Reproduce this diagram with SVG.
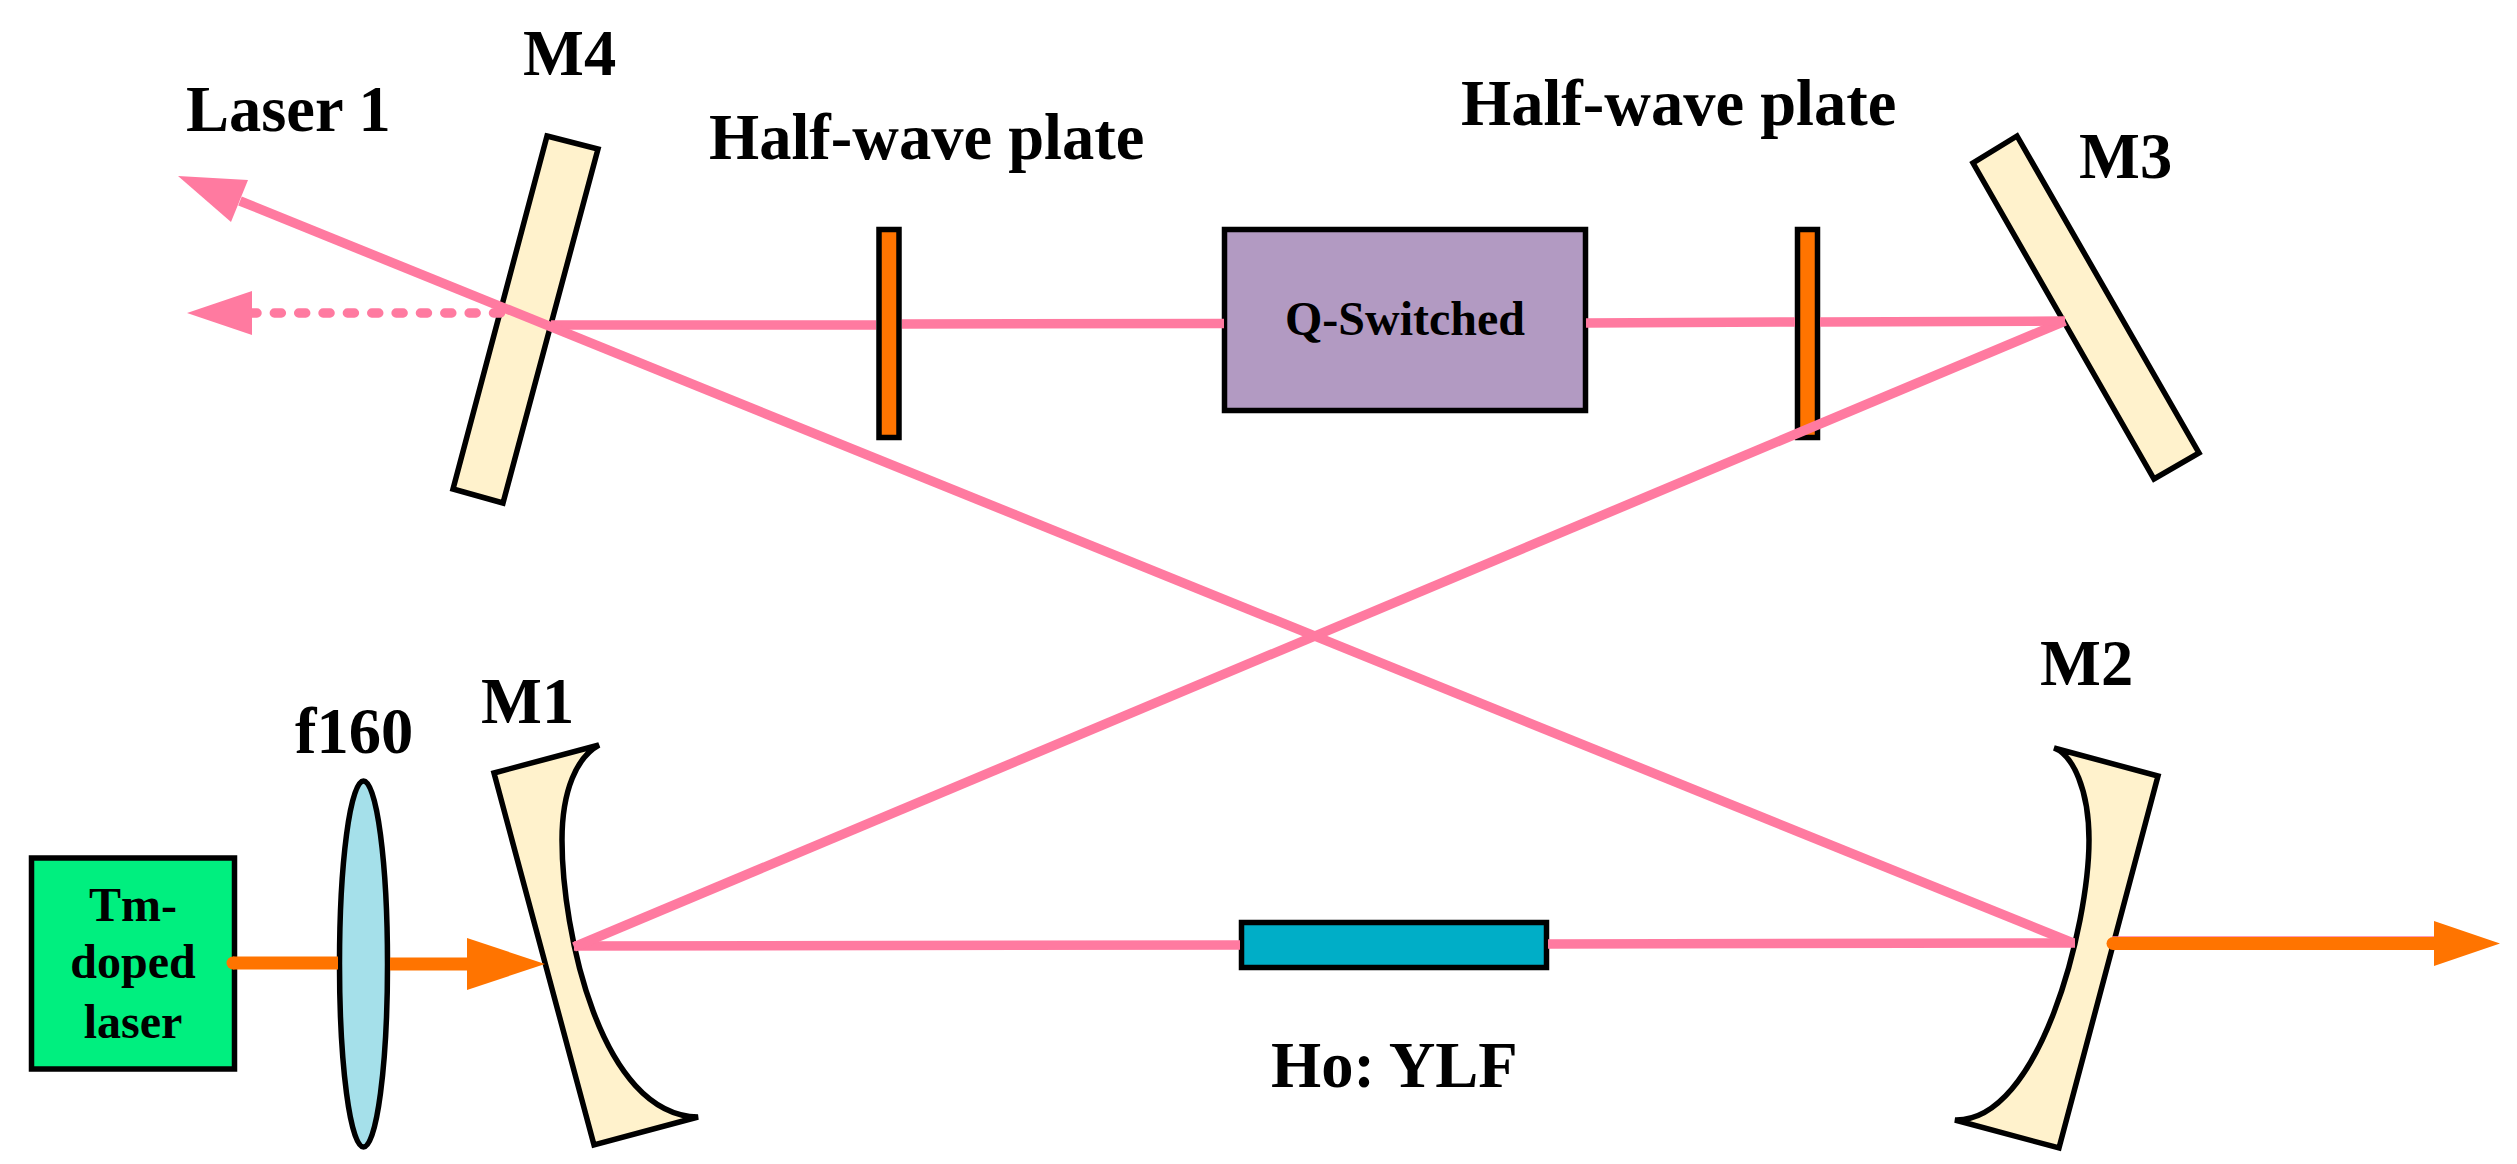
<svg xmlns="http://www.w3.org/2000/svg" width="2517" height="1164" viewBox="0 0 2517 1164">
<style>
text{font-family:"Liberation Serif","Times New Roman",serif;font-weight:bold;fill:#000}
.lg{font-size:64.5px}
.sm{font-size:48px}
.mid{text-anchor:middle}
.mir{fill:#FFF2CC;stroke:#000;stroke-width:5.5;stroke-linejoin:miter}
.box{stroke:#000;stroke-width:5.5}
.pink{fill:none;stroke:#FF7AA0;stroke-width:9.5}
.org{fill:none;stroke:#FF7400;stroke-width:13}
</style>
<rect width="2517" height="1164" fill="#fff"/>
<g id="tm-laser"><rect class="box" x="31.500" y="858" width="203" height="211" fill="#00EF7F"/>
<text class="sm mid" x="133" y="921">Tm-</text><text class="sm mid" x="133" y="978">doped</text><text class="sm mid" x="133" y="1038">laser</text></g>
<g id="lens-f160"><ellipse class="box" cx="363.500" cy="964" rx="24" ry="183" fill="#A5E0EA"/><text class="lg" x="295" y="753">f160</text></g>
<g id="m1"><path class="mir" d="M494 773L599 745C577 757 562 790 562 840C562 930 600 1115 698 1117L594 1145Z"/><text class="lg" x="481" y="723">M1</text></g>
<g id="m2"><path class="mir" d="M2054 748L2158 776L2059 1148L1955 1120C2040 1122 2089 925 2089 840C2089 790 2073 755 2054 748Z"/><text class="lg" x="2040" y="685">M2</text></g>
<g id="m3"><path class="mir" d="M2017 136L1973 163L2154 479L2199 453Z"/><text class="lg" x="2079" y="178">M3</text></g>
<g id="m4"><path class="mir" d="M547 136L598 149L503 503L453 489Z"/><text class="lg" x="523" y="75">M4</text></g>
<g id="hwp1"><rect class="box" x="879" y="229.500" width="20" height="208" fill="#FF7400"/><text class="lg" x="709" y="159">Half-wave plate</text></g>
<g id="hwp2"><rect class="box" x="1797.500" y="229.500" width="20" height="208" fill="#FF7400"/><text class="lg" x="1461" y="125">Half-wave plate</text></g>
<g id="qswitch"><rect class="box" x="1224.500" y="229.500" width="361" height="181" fill="#B29AC2"/><text class="sm" x="1285" y="335">Q-Switched</text></g>
<g id="crystal"><rect class="box" x="1241.500" y="922.500" width="305" height="45" fill="#00AEC7"/><text class="lg" x="1271" y="1087">Ho: YLF</text></g>
<g id="laser1-label"><text class="lg" x="186" y="131">Laser 1</text></g>
<g id="connectors">
<path class="pink" d="M574 946L1240 945M1548 944L2075 943"/>
<path class="pink" d="M2112 941L2440 941"/>
<path class="pink" d="M574 947L2065 321"/>
<path class="pink" d="M551 325L876 325M902 324L1224 323.500M1586 323L1795 322M1820 322L2065 321"/>
<path class="pink" d="M2073 943L240 201"/>
<polygon fill="#FF7AA0" points="178,176 248,180 231,222"/>
<path class="pink" d="M500.500 313L252 313" stroke-dasharray="7 17.350" stroke-linecap="round"/>
<polygon fill="#FF7AA0" points="187,313 252,291 252,335"/>
<path class="org" d="M233 963L338 963"/>
<circle cx="233" cy="963" r="6.500" fill="#FF7400"/>
<path class="org" d="M390 964L470 964"/>
<polygon fill="#FF7400" points="467,938 545,964 467,990"/>
<path class="org" d="M2113 943.500L2440 943.500" stroke-linecap="round" stroke-width="10"/>
<polygon fill="#FF7400" points="2434,921 2500,943.500 2434,966"/>
</g>
</svg>
